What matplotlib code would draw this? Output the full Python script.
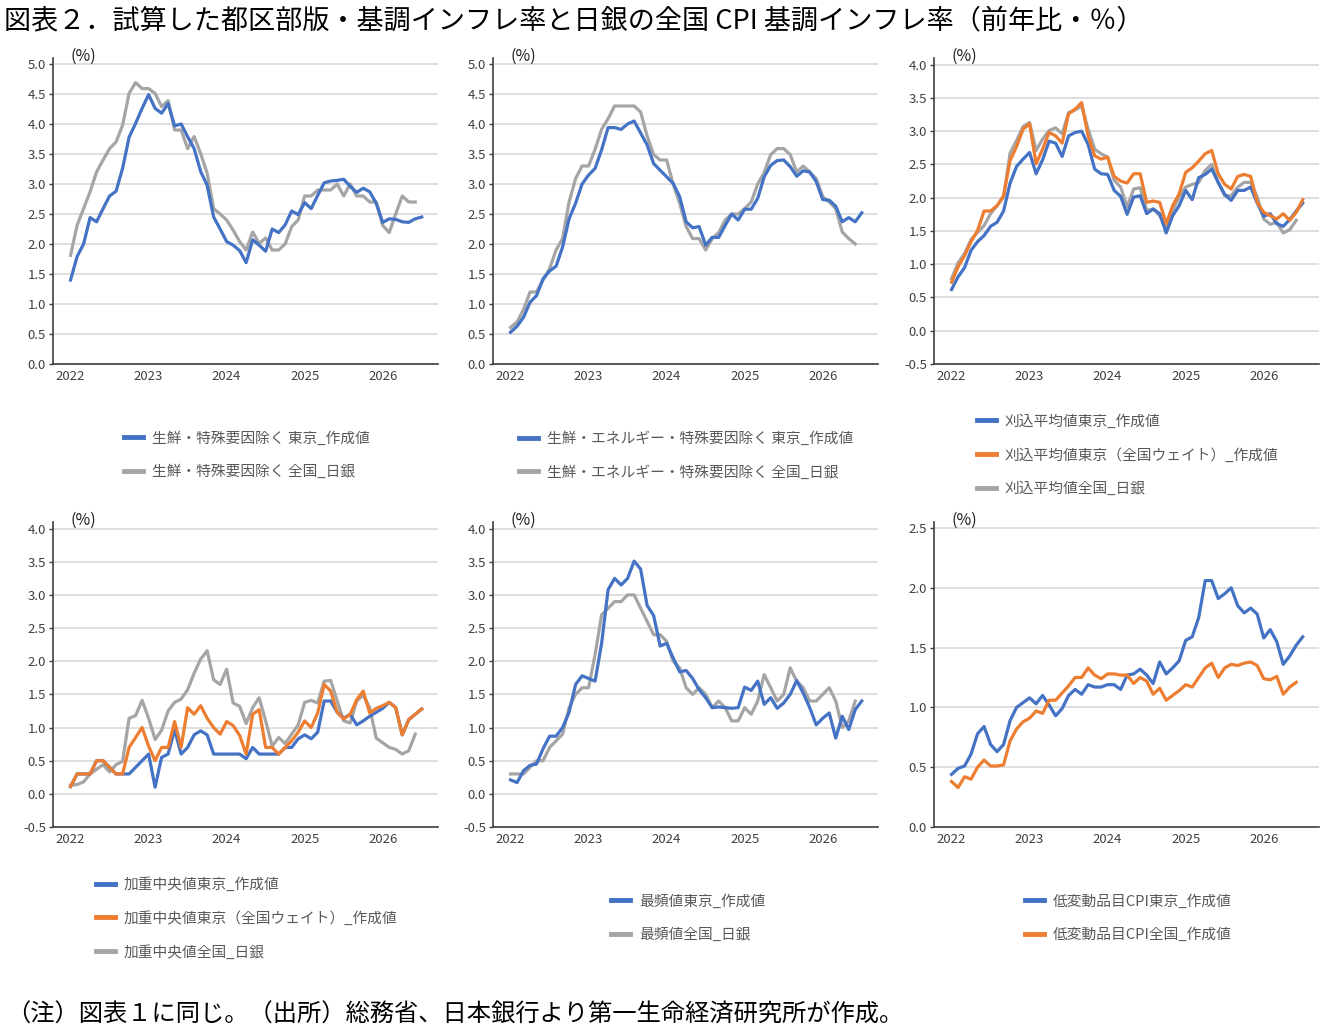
import numpy as np
import matplotlib
matplotlib.use("Agg")
import matplotlib.pyplot as plt

plt.rcParams['font.family'] = ['Noto Sans CJK JP', 'DejaVu Sans']

# 月次データ (2022年1月〜)
years = ['2022', '2023', '2024', '2025', '2026']

# 図1: 生鮮・特殊要因除く
core_tokyo = [1.40, 1.79, 2.00, 2.44, 2.37, 2.59, 2.80, 2.88, 3.26, 3.78, 4.01, 4.26, 4.49, 4.26, 4.18, 4.34,
              3.97, 4.00, 3.79, 3.59, 3.21, 2.98, 2.45, 2.25, 2.04, 1.98, 1.89, 1.69, 2.07, 1.98, 1.88, 2.25,
              2.19, 2.32, 2.55, 2.49, 2.69, 2.59, 2.81, 3.02, 3.05, 3.06, 3.08, 2.96, 2.86, 2.93, 2.87, 2.68,
              2.36, 2.42, 2.41, 2.37, 2.36, 2.42, 2.45]
core_boj = [1.81, 2.31, 2.59, 2.87, 3.20, 3.40, 3.59, 3.70, 3.98, 4.51, 4.69, 4.59, 4.59, 4.51, 4.29, 4.39,
            3.90, 3.90, 3.59, 3.79, 3.51, 3.18, 2.59, 2.50, 2.40, 2.23, 2.04, 1.90, 2.20, 2.01, 2.10, 1.90,
            1.90, 2.00, 2.29, 2.40, 2.80, 2.80, 2.90, 2.90, 2.90, 3.00, 2.80, 3.00, 2.80, 2.80, 2.70, 2.70,
            2.31, 2.19, 2.50, 2.80, 2.70, 2.70]

# 図2: 生鮮・エネルギー・特殊要因除く
cc_tokyo = [0.53, 0.63, 0.78, 1.03, 1.14, 1.42, 1.55, 1.63, 1.95, 2.42, 2.68, 3.00, 3.15, 3.26, 3.57, 3.94,
            3.94, 3.91, 4.00, 4.05, 3.85, 3.65, 3.34, 3.23, 3.12, 3.01, 2.79, 2.37, 2.27, 2.29, 1.98, 2.11,
            2.11, 2.31, 2.50, 2.40, 2.58, 2.58, 2.76, 3.12, 3.31, 3.39, 3.40, 3.29, 3.13, 3.22, 3.20, 3.04,
            2.74, 2.73, 2.63, 2.37, 2.44, 2.37, 2.52]
cc_boj = [0.61, 0.70, 0.91, 1.20, 1.20, 1.40, 1.59, 1.90, 2.09, 2.70, 3.09, 3.30, 3.30, 3.58, 3.91, 4.09,
          4.30, 4.30, 4.30, 4.30, 4.20, 3.80, 3.49, 3.40, 3.40, 3.00, 2.68, 2.29, 2.09, 2.09, 1.90, 2.09,
          2.19, 2.40, 2.50, 2.50, 2.59, 2.70, 3.00, 3.19, 3.49, 3.59, 3.59, 3.49, 3.20, 3.30, 3.20, 3.09,
          2.79, 2.70, 2.59, 2.20, 2.09, 2.00]

# 図3: 刈込平均値
trim_tokyo = [0.62, 0.81, 0.95, 1.21, 1.34, 1.43, 1.57, 1.63, 1.80, 2.22, 2.47, 2.58, 2.68, 2.36, 2.57, 2.85,
              2.82, 2.62, 2.93, 2.98, 3.00, 2.80, 2.43, 2.36, 2.35, 2.11, 2.02, 1.75, 2.01, 2.03, 1.76, 1.83,
              1.76, 1.47, 1.73, 1.88, 2.11, 1.97, 2.30, 2.35, 2.43, 2.23, 2.05, 1.96, 2.11, 2.11, 2.16, 1.92,
              1.72, 1.76, 1.61, 1.57, 1.67, 1.80, 1.92]
trim_tokyo_w = [0.73, 0.96, 1.13, 1.34, 1.51, 1.80, 1.80, 1.88, 2.03, 2.56, 2.77, 3.03, 3.11, 2.51, 2.73, 2.98,
                2.93, 2.82, 3.26, 3.33, 3.43, 2.93, 2.63, 2.58, 2.61, 2.32, 2.25, 2.22, 2.36, 2.36, 1.93, 1.95,
                1.93, 1.61, 1.88, 2.06, 2.38, 2.45, 2.55, 2.66, 2.71, 2.36, 2.20, 2.13, 2.32, 2.35, 2.32, 1.93,
                1.78, 1.73, 1.68, 1.76, 1.66, 1.78, 1.97]
trim_boj = [0.78, 1.02, 1.16, 1.37, 1.48, 1.58, 1.76, 1.88, 2.01, 2.67, 2.86, 3.07, 3.13, 2.71, 2.88, 3.01,
            3.05, 2.96, 3.28, 3.32, 3.38, 3.03, 2.73, 2.66, 2.61, 2.26, 2.16, 1.86, 2.13, 2.15, 1.81, 1.83,
            1.73, 1.56, 1.81, 2.01, 2.16, 2.20, 2.23, 2.41, 2.50, 2.23, 2.03, 2.03, 2.16, 2.23, 2.23, 2.01,
            1.68, 1.60, 1.63, 1.47, 1.52, 1.66]

# 図4: 加重中央値
med_tokyo = [0.11, 0.30, 0.30, 0.30, 0.50, 0.50, 0.40, 0.30, 0.30, 0.30, 0.40, 0.50, 0.60, 0.10, 0.55, 0.60,
             0.97, 0.60, 0.70, 0.89, 0.95, 0.89, 0.60, 0.60, 0.60, 0.60, 0.60, 0.53, 0.70, 0.60, 0.60, 0.60,
             0.60, 0.70, 0.70, 0.83, 0.89, 0.83, 0.93, 1.40, 1.40, 1.23, 1.14, 1.20, 1.04, 1.10, 1.17, 1.23,
             1.29, 1.38, 1.30, 0.89, 1.12, 1.20, 1.28]
med_tokyo_w = [0.11, 0.30, 0.30, 0.30, 0.50, 0.50, 0.40, 0.30, 0.30, 0.70, 0.85, 1.00, 0.72, 0.50, 0.70, 0.70,
               1.09, 0.70, 1.30, 1.20, 1.33, 1.14, 1.00, 0.90, 1.09, 1.03, 0.88, 0.60, 1.20, 1.27, 0.70, 0.70,
               0.60, 0.70, 0.80, 0.93, 1.10, 1.00, 1.22, 1.65, 1.55, 1.23, 1.13, 1.20, 1.42, 1.55, 1.22, 1.29,
               1.33, 1.38, 1.30, 0.89, 1.12, 1.20, 1.28]
med_boj = [0.13, 0.14, 0.18, 0.30, 0.37, 0.44, 0.33, 0.44, 0.49, 1.14, 1.18, 1.41, 1.14, 0.82, 0.96, 1.25,
           1.38, 1.43, 1.57, 1.82, 2.03, 2.16, 1.72, 1.65, 1.88, 1.37, 1.32, 1.06, 1.30, 1.45, 1.10, 0.72,
           0.85, 0.76, 0.90, 1.04, 1.38, 1.41, 1.37, 1.70, 1.71, 1.40, 1.10, 1.07, 1.40, 1.49, 1.30, 0.84,
           0.77, 0.70, 0.67, 0.60, 0.65, 0.90]

# 図5: 最頻値
mode_tokyo = [0.21, 0.17, 0.35, 0.43, 0.45, 0.68, 0.87, 0.87, 1.00, 1.23, 1.65, 1.78, 1.74, 1.70, 2.27, 3.08,
              3.25, 3.15, 3.25, 3.51, 3.39, 2.84, 2.69, 2.23, 2.27, 2.05, 1.84, 1.86, 1.74, 1.57, 1.45, 1.30,
              1.31, 1.30, 1.29, 1.30, 1.61, 1.56, 1.70, 1.35, 1.45, 1.29, 1.37, 1.50, 1.71, 1.52, 1.30, 1.04,
              1.14, 1.22, 0.84, 1.17, 0.97, 1.27, 1.40]
mode_boj = [0.30, 0.30, 0.30, 0.40, 0.50, 0.50, 0.70, 0.80, 0.90, 1.30, 1.50, 1.60, 1.60, 2.10, 2.70, 2.80,
            2.90, 2.90, 3.00, 3.00, 2.80, 2.60, 2.40, 2.40, 2.30, 2.00, 1.90, 1.60, 1.50, 1.60, 1.50, 1.30,
            1.40, 1.30, 1.10, 1.10, 1.30, 1.20, 1.40, 1.80, 1.60, 1.40, 1.50, 1.90, 1.70, 1.60, 1.40, 1.40,
            1.50, 1.60, 1.40, 1.00, 1.10, 1.40]

# 図6: 低変動品目CPI
lv_tokyo = [0.44, 0.49, 0.51, 0.61, 0.78, 0.84, 0.69, 0.63, 0.69, 0.89, 1.00, 1.04, 1.08, 1.03, 1.10, 1.02,
            0.93, 0.99, 1.10, 1.15, 1.11, 1.19, 1.17, 1.17, 1.19, 1.19, 1.15, 1.27, 1.28, 1.32, 1.27, 1.20,
            1.38, 1.28, 1.33, 1.39, 1.56, 1.59, 1.75, 2.06, 2.06, 1.91, 1.95, 2.00, 1.85, 1.79, 1.83, 1.78,
            1.58, 1.65, 1.55, 1.36, 1.43, 1.52, 1.59]
lv_zenkoku = [0.38, 0.33, 0.42, 0.40, 0.50, 0.56, 0.51, 0.51, 0.52, 0.72, 0.82, 0.88, 0.91, 0.97, 0.95, 1.06,
              1.06, 1.12, 1.18, 1.25, 1.25, 1.33, 1.27, 1.24, 1.28, 1.28, 1.27, 1.27, 1.20, 1.25, 1.22, 1.11,
              1.16, 1.06, 1.10, 1.14, 1.19, 1.17, 1.25, 1.33, 1.37, 1.25, 1.33, 1.36, 1.35, 1.37, 1.38, 1.35,
              1.24, 1.23, 1.26, 1.11, 1.17, 1.21]

BLUE = '#4472C4'
ORANGE = '#ED7D31'
GRAY = '#A5A5A5'
TXT = '#404040'

W, H = 1324, 1029
fig = plt.figure(figsize=(W / 100, H / 100), dpi=100)


def px_axes(x0, y0, x1, y1):
    return fig.add_axes([x0 / W, 1 - y1 / H, (x1 - x0) / W, (y1 - y0) / H])


panels = [
    dict(box=(53, 58, 438, 364), ylim=(0, 5.1), yticks=np.arange(0, 5.01, 0.5),
         series=[(core_tokyo, BLUE, '生鮮・特殊要因除く 東京_作成値'),
                 (core_boj, GRAY, '生鮮・特殊要因除く 全国_日銀')],
         leg=(124, 431)),
    dict(box=(493, 58, 878, 364), ylim=(0, 5.1), yticks=np.arange(0, 5.01, 0.5),
         series=[(cc_tokyo, BLUE, '生鮮・エネルギー・特殊要因除く 東京_作成値'),
                 (cc_boj, GRAY, '生鮮・エネルギー・特殊要因除く 全国_日銀')],
         leg=(519, 431)),
    dict(box=(934, 58, 1319, 364), ylim=(-0.5, 4.1), yticks=np.arange(-0.5, 4.01, 0.5),
         series=[(trim_tokyo, BLUE, '刈込平均値東京_作成値'),
                 (trim_tokyo_w, ORANGE, '刈込平均値東京（全国ウェイト）_作成値'),
                 (trim_boj, GRAY, '刈込平均値全国_日銀')],
         leg=(977, 414)),
    dict(box=(53, 522, 438, 827), ylim=(-0.5, 4.1), yticks=np.arange(-0.5, 4.01, 0.5),
         series=[(med_tokyo, BLUE, '加重中央値東京_作成値'),
                 (med_tokyo_w, ORANGE, '加重中央値東京（全国ウェイト）_作成値'),
                 (med_boj, GRAY, '加重中央値全国_日銀')],
         leg=(96, 877)),
    dict(box=(493, 522, 878, 827), ylim=(-0.5, 4.1), yticks=np.arange(-0.5, 4.01, 0.5),
         series=[(mode_tokyo, BLUE, '最頻値東京_作成値'),
                 (mode_boj, GRAY, '最頻値全国_日銀')],
         leg=(611, 894)),
    dict(box=(934, 522, 1319, 827), ylim=(0, 2.55), yticks=np.arange(0, 2.51, 0.5),
         series=[(lv_tokyo, BLUE, '低変動品目CPI東京_作成値'),
                 (lv_zenkoku, ORANGE, '低変動品目CPI全国_作成値')],
         leg=(1025, 894)),
]

for p in panels:
    ax = px_axes(*p['box'])
    # 日銀系列を下に、作成値を上に描く
    order = sorted(p['series'], key=lambda s: 0 if s[1] == GRAY else 1)
    for vals, col, lab in order:
        ax.plot(np.arange(len(vals)), vals, color=col, lw=2.3, solid_joinstyle='round')
    ax.set_xlim(-2.7, 56.5)
    ax.set_ylim(*p['ylim'])
    ax.set_yticks(p['yticks'])
    ax.set_yticklabels([f'{v:.1f}' for v in p['yticks']])
    ax.set_xticks([0, 12, 24, 36, 48])
    ax.set_xticklabels(years)
    ax.grid(axis='y', color='#D9D9D9', lw=1.2)
    ax.set_axisbelow(True)
    for s in ['top', 'right']:
        ax.spines[s].set_visible(False)
    for s in ['left', 'bottom']:
        ax.spines[s].set_color(TXT)
        ax.spines[s].set_linewidth(1.2)
    ax.tick_params(axis='y', length=3, width=1, color=TXT, labelsize=9.5, labelcolor=TXT, pad=2)
    ax.tick_params(axis='x', length=0, labelsize=9.5, labelcolor=TXT, pad=4)
    ax.text(0.078, 1.005, '(%)', transform=ax.transAxes, fontsize=11.5, color='#222222',
            ha='center', va='center')

    handles = [plt.Line2D([], [], color=c, lw=3.5) for _, c, _ in p['series']]
    labels = [l for _, _, l in p['series']]
    lx, ly = p['leg']
    fig.legend(handles, labels, loc='upper left', bbox_to_anchor=(lx / W, 1 - ly / H),
               frameon=False, fontsize=10.6, labelcolor='#595959', handlelength=1.3,
               handletextpad=0.6, labelspacing=1.3, borderpad=0, borderaxespad=0)

fig.text(4 / W, 1 - 21 / H,
         '図表２．試算した都区部版・基調インフレ率と日銀の全国 CPI 基調インフレ率（前年比・％）',
         fontsize=19.5, ha='left', va='center', color='black')
fig.text(6 / W, 1 - 1015 / H,
         '（注）図表１に同じ。（出所）総務省、日本銀行より第一生命経済研究所が作成。',
         fontsize=17.5, ha='left', va='center', color='black')

fig.savefig('out.png', dpi=100, facecolor='white')
